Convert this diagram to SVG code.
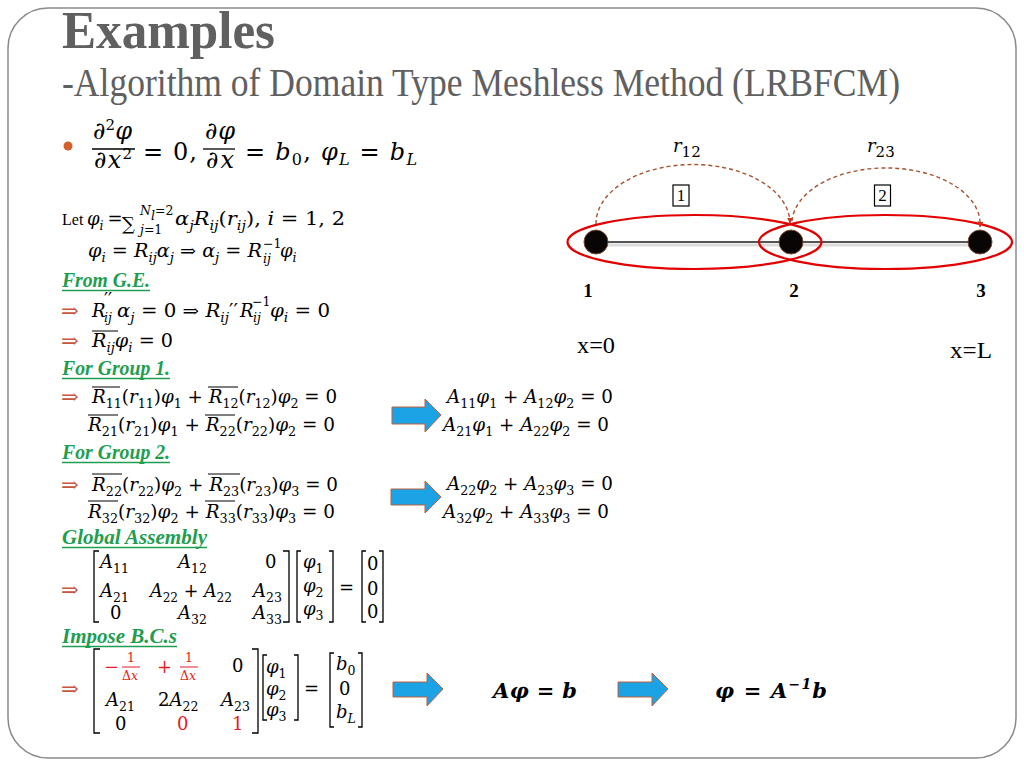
<svg xmlns="http://www.w3.org/2000/svg" width="1024" height="768" viewBox="0 0 1024 768">
<style>
.m{font-family:"DejaVu Serif","Liberation Serif",serif;font-size:18px;fill:#000}
.i{font-style:italic}
.s{font-size:12.5px;baseline-shift:-4.5px;font-style:normal}
.si{font-size:12.5px;baseline-shift:-4.5px;font-style:italic}
.sm{font-size:12.5px}
.ar{font-family:"DejaVu Serif","Liberation Serif",serif;font-size:21px;fill:#c8553d}
.red{fill:#e31e24}
.hd{font-family:"Liberation Serif",serif;font-weight:bold;font-style:italic;font-size:20px;fill:#1f9e50}
.ul{stroke:#1f9e50;stroke-width:1.3}
.br{fill:none;stroke:#000;stroke-width:1.3}
.ov{stroke:#000;stroke-width:1}
.blue{fill:#1ba3e6;stroke:#c0603a;stroke-width:1}
.big{font-family:"DejaVu Serif","Liberation Serif",serif;font-size:24px;fill:#000}
.bb{font-family:"DejaVu Serif","Liberation Serif",serif;font-size:21px;font-weight:bold;font-style:italic;fill:#000}
.lbl{font-family:"Liberation Serif",serif;font-size:19px;font-weight:bold;fill:#000;text-anchor:middle}
.tx{font-family:"Liberation Serif",serif;font-size:23px;fill:#000}
.ell{fill:none;stroke:#e30000;stroke-width:2.2}
.dash{fill:none;stroke:#a5522e;stroke-width:1.4;stroke-dasharray:4 3}
.nd{fill:#0a0505;stroke:#7a4a30;stroke-width:1}
</style>
<defs>
<marker id="ah" viewBox="0 0 10 10" refX="9" refY="5" markerWidth="6" markerHeight="6" orient="auto" markerUnits="userSpaceOnUse">
<path d="M0,0 L10,5 L0,10 Z" fill="#d0301a"/>
</marker>
</defs>
<rect x="8" y="8" width="1008" height="750" rx="40" ry="40" fill="#fff" stroke="#8a8a8a" stroke-width="1.5"/>
<text x="62" y="48" font-family="Liberation Serif,serif" font-weight="bold" font-size="52" fill="#606060" textLength="213" lengthAdjust="spacingAndGlyphs">Examples</text>
<text x="62" y="96" font-family="Liberation Serif,serif" font-size="40" fill="#606060" textLength="838" lengthAdjust="spacingAndGlyphs">-Algorithm of Domain Type Meshless Method (LRBFCM)</text>
<circle cx="68" cy="146" r="4.5" fill="#d4602e"/>
<g id="pde">
<text class="big" x="93" y="139" textLength="39">∂<tspan font-size="15" baseline-shift="9">2</tspan><tspan class="i">φ</tspan></text>
<line x1="92" y1="149" x2="135" y2="149" stroke="#000" stroke-width="1.3"/>
<text class="big" x="94" y="168" textLength="38">∂<tspan class="i">x</tspan><tspan font-size="15" baseline-shift="9">2</tspan></text>
<text class="big" x="143" y="160" textLength="54">= 0,</text>
<text class="big" x="205" y="139" textLength="30">∂<tspan class="i">φ</tspan></text>
<line x1="203" y1="149" x2="235" y2="149" stroke="#000" stroke-width="1.3"/>
<text class="big" x="206" y="168" textLength="28">∂<tspan class="i">x</tspan></text>
<text class="big" x="245" y="160" textLength="172">= <tspan class="i">b</tspan><tspan font-size="16" baseline-shift="-5">0</tspan>, <tspan class="i">φ</tspan><tspan font-size="16" baseline-shift="-5" font-style="italic">L</tspan> = <tspan class="i">b</tspan><tspan font-size="16" baseline-shift="-5" font-style="italic">L</tspan></text>
</g>
<g id="let">
<text x="62" y="225" font-family="Liberation Serif,serif" font-size="16">Let</text>
<text class="m" x="87" y="225" font-size="17"><tspan class="i">φ</tspan><tspan class="si" font-size="12">i</tspan></text>
<text class="m" x="107.5" y="225" font-size="14">=</text>
<text class="m" x="122" y="230" font-size="26">∑</text>
<text class="m sm" x="140" y="215"><tspan class="i">N</tspan><tspan class="si" font-size="9">l</tspan>=2</text>
<text class="m sm" x="140" y="234"><tspan class="i">j</tspan>=1</text>
<text class="m" x="175" y="225" textLength="170" lengthAdjust="spacingAndGlyphs"><tspan class="i">α</tspan><tspan class="si">j</tspan><tspan class="i">R</tspan><tspan class="si">ij</tspan>(<tspan class="i">r</tspan><tspan class="si">ij</tspan>), <tspan class="i">i</tspan> = 1, 2</text>
<text class="m" x="88" y="257" textLength="174" lengthAdjust="spacingAndGlyphs"><tspan class="i">φ</tspan><tspan class="si">i</tspan> = <tspan class="i">R</tspan><tspan class="si">ij</tspan><tspan class="i">α</tspan><tspan class="si">j</tspan> ⇒ <tspan class="i">α</tspan><tspan class="si">j</tspan> = <tspan class="i">R</tspan></text>
<text class="m sm" x="263" y="248">−1</text>
<text class="m sm i" x="263" y="263">ij</text>
<text class="m" x="280" y="257"><tspan class="i">φ</tspan><tspan class="si">i</tspan></text>
</g>
<g id="ge">
<text class="hd" x="62" y="287" textLength="88" lengthAdjust="spacingAndGlyphs">From G.E.</text>
<line class="ul" x1="62" y1="290.5" x2="150" y2="290.5"/>
<text class="ar" x="61" y="318">⇒</text>
<text class="m i" x="92" y="317">R</text>
<text class="m" x="104" y="306" font-size="14">′′</text>
<text class="m sm i" x="104" y="322">ij</text>
<text class="m" x="117" y="317" textLength="121" lengthAdjust="spacingAndGlyphs"><tspan class="i">α</tspan><tspan class="si">j</tspan> = 0 ⇒ <tspan class="i">R</tspan><tspan class="si">ij</tspan>′′</text>
<text class="m i" x="240" y="317">R</text>
<text class="m sm" x="252" y="306">−1</text>
<text class="m sm i" x="253" y="322">ij</text>
<text class="m" x="270" y="317" textLength="60" lengthAdjust="spacingAndGlyphs"><tspan class="i">φ</tspan><tspan class="si">i</tspan> = 0</text>
<text class="ar" x="61" y="348">⇒</text>
<text class="m" x="92" y="347" textLength="81" lengthAdjust="spacingAndGlyphs"><tspan class="i">R</tspan><tspan class="si">ij</tspan><tspan class="i">φ</tspan><tspan class="si">i</tspan> = 0</text>
<line class="ov" x1="92" y1="331" x2="118" y2="331"/>
</g>
<g id="group1">
<text class="hd" x="62" y="375" textLength="108" lengthAdjust="spacingAndGlyphs">For Group 1.</text>
<line class="ul" x1="62" y1="378.5" x2="170" y2="378.5"/>
<text class="ar" x="61" y="404">⇒</text>
<text class="m" x="92" y="403" textLength="245" lengthAdjust="spacingAndGlyphs"><tspan class="i">R</tspan><tspan class="s">11</tspan>(<tspan class="i">r</tspan><tspan class="s">11</tspan>)<tspan class="i">φ</tspan><tspan class="s">1</tspan> + <tspan class="i">R</tspan><tspan class="s">12</tspan>(<tspan class="i">r</tspan><tspan class="s">12</tspan>)<tspan class="i">φ</tspan><tspan class="s">2</tspan> = 0</text>
<line class="ov" x1="92" y1="387" x2="120" y2="387"/>
<line class="ov" x1="208" y1="387" x2="238" y2="387"/>
<text class="m" x="88" y="431" textLength="247" lengthAdjust="spacingAndGlyphs"><tspan class="i">R</tspan><tspan class="s">21</tspan>(<tspan class="i">r</tspan><tspan class="s">21</tspan>)<tspan class="i">φ</tspan><tspan class="s">1</tspan> + <tspan class="i">R</tspan><tspan class="s">22</tspan>(<tspan class="i">r</tspan><tspan class="s">22</tspan>)<tspan class="i">φ</tspan><tspan class="s">2</tspan> = 0</text>
<line class="ov" x1="88" y1="415" x2="118" y2="415"/>
<line class="ov" x1="205" y1="415" x2="235" y2="415"/>
</g>
<g id="group2">
<text class="hd" x="62" y="459" textLength="108" lengthAdjust="spacingAndGlyphs">For Group 2.</text>
<line class="ul" x1="62" y1="462.5" x2="170" y2="462.5"/>
<text class="ar" x="61" y="492">⇒</text>
<text class="m" x="92" y="491" textLength="246" lengthAdjust="spacingAndGlyphs"><tspan class="i">R</tspan><tspan class="s">22</tspan>(<tspan class="i">r</tspan><tspan class="s">22</tspan>)<tspan class="i">φ</tspan><tspan class="s">2</tspan> + <tspan class="i">R</tspan><tspan class="s">23</tspan>(<tspan class="i">r</tspan><tspan class="s">23</tspan>)<tspan class="i">φ</tspan><tspan class="s">3</tspan> = 0</text>
<line class="ov" x1="92" y1="474" x2="122" y2="474"/>
<line class="ov" x1="208" y1="474" x2="240" y2="474"/>
<text class="m" x="88" y="518" textLength="247" lengthAdjust="spacingAndGlyphs"><tspan class="i">R</tspan><tspan class="s">32</tspan>(<tspan class="i">r</tspan><tspan class="s">32</tspan>)<tspan class="i">φ</tspan><tspan class="s">2</tspan> + <tspan class="i">R</tspan><tspan class="s">33</tspan>(<tspan class="i">r</tspan><tspan class="s">33</tspan>)<tspan class="i">φ</tspan><tspan class="s">3</tspan> = 0</text>
<line class="ov" x1="88" y1="501" x2="118" y2="501"/>
<line class="ov" x1="205" y1="501" x2="235" y2="501"/>
</g>
<g id="local-eqs">
<text class="m" x="447" y="403" textLength="166" lengthAdjust="spacingAndGlyphs"><tspan class="i">A</tspan><tspan class="s">11</tspan><tspan class="i">φ</tspan><tspan class="s">1</tspan> + <tspan class="i">A</tspan><tspan class="s">12</tspan><tspan class="i">φ</tspan><tspan class="s">2</tspan> = 0</text>
<text class="m" x="443" y="431" textLength="166" lengthAdjust="spacingAndGlyphs"><tspan class="i">A</tspan><tspan class="s">21</tspan><tspan class="i">φ</tspan><tspan class="s">1</tspan> + <tspan class="i">A</tspan><tspan class="s">22</tspan><tspan class="i">φ</tspan><tspan class="s">2</tspan> = 0</text>
<text class="m" x="447" y="490" textLength="166" lengthAdjust="spacingAndGlyphs"><tspan class="i">A</tspan><tspan class="s">22</tspan><tspan class="i">φ</tspan><tspan class="s">2</tspan> + <tspan class="i">A</tspan><tspan class="s">23</tspan><tspan class="i">φ</tspan><tspan class="s">3</tspan> = 0</text>
<text class="m" x="443" y="518" textLength="166" lengthAdjust="spacingAndGlyphs"><tspan class="i">A</tspan><tspan class="s">32</tspan><tspan class="i">φ</tspan><tspan class="s">2</tspan> + <tspan class="i">A</tspan><tspan class="s">33</tspan><tspan class="i">φ</tspan><tspan class="s">3</tspan> = 0</text>
</g>
<g id="assembly">
<text class="hd" x="62" y="544" textLength="145" lengthAdjust="spacingAndGlyphs">Global Assembly</text>
<line class="ul" x1="62" y1="547.5" x2="207" y2="547.5"/>
<text class="ar" x="61" y="597">⇒</text>
<path class="br" d="M99 551 H94 V622 H99"/>
<path class="br" d="M283 551 H289 V622 H283"/>
<text class="m" x="100" y="568"><tspan class="i">A</tspan><tspan class="s">11</tspan></text>
<text class="m" x="178" y="568"><tspan class="i">A</tspan><tspan class="s">12</tspan></text>
<text class="m" x="265" y="568">0</text>
<text class="m" x="100" y="597"><tspan class="i">A</tspan><tspan class="s">21</tspan></text>
<text class="m" x="150" y="597" textLength="82" lengthAdjust="spacingAndGlyphs"><tspan class="i">A</tspan><tspan class="s">22</tspan> + <tspan class="i">A</tspan><tspan class="s">22</tspan></text>
<text class="m" x="253" y="597"><tspan class="i">A</tspan><tspan class="s">23</tspan></text>
<text class="m" x="110" y="619">0</text>
<text class="m" x="178" y="619"><tspan class="i">A</tspan><tspan class="s">32</tspan></text>
<text class="m" x="253" y="619"><tspan class="i">A</tspan><tspan class="s">33</tspan></text>
<path class="br" d="M301 551 H297 V622 H301"/>
<path class="br" d="M329 551 H333 V622 H329"/>
<text class="m" x="303" y="568"><tspan class="i">φ</tspan><tspan class="s">1</tspan></text>
<text class="m" x="303" y="592"><tspan class="i">φ</tspan><tspan class="s">2</tspan></text>
<text class="m" x="303" y="615"><tspan class="i">φ</tspan><tspan class="s">3</tspan></text>
<text class="m" x="339" y="594">=</text>
<path class="br" d="M366 551 H362 V622 H366"/>
<path class="br" d="M379 551 H383 V622 H379"/>
<text class="m" x="367" y="570">0</text>
<text class="m" x="367" y="595">0</text>
<text class="m" x="367" y="618">0</text>
</g>
<g id="bcs">
<text class="hd" x="62" y="643" textLength="115" lengthAdjust="spacingAndGlyphs">Impose B.C.s</text>
<line class="ul" x1="62" y1="646.5" x2="177" y2="646.5"/>
<text class="ar" x="61" y="696">⇒</text>
<path class="br" d="M100 649 H94 V733 H100"/>
<path class="br" d="M252 649 H258 V733 H252"/>
<text class="m red" x="104" y="673">−</text>
<text class="m sm red" x="127" y="662">1</text>
<line x1="122" y1="667" x2="140" y2="667" stroke="#e31e24" stroke-width="1"/>
<text class="m sm red" x="122" y="680">Δ<tspan class="i">x</tspan></text>
<text class="m red" x="157" y="673">+</text>
<text class="m sm red" x="185" y="662">1</text>
<line x1="180" y1="667" x2="198" y2="667" stroke="#e31e24" stroke-width="1"/>
<text class="m sm red" x="180" y="680">Δ<tspan class="i">x</tspan></text>
<text class="m" x="232" y="672">0</text>
<text class="m" x="106" y="706"><tspan class="i">A</tspan><tspan class="s">21</tspan></text>
<text class="m" x="158" y="706">2<tspan class="i">A</tspan><tspan class="s">22</tspan></text>
<text class="m" x="221" y="706"><tspan class="i">A</tspan><tspan class="s">23</tspan></text>
<text class="m" x="115" y="730">0</text>
<text class="m red" x="177" y="730">0</text>
<text class="m red" x="232" y="730">1</text>
<path class="br" d="M267 655 H263 V720 H267"/>
<path class="br" d="M294 655 H298 V720 H294"/>
<text class="m" x="266" y="673"><tspan class="i">φ</tspan><tspan class="s">1</tspan></text>
<text class="m" x="266" y="695"><tspan class="i">φ</tspan><tspan class="s">2</tspan></text>
<text class="m" x="266" y="716"><tspan class="i">φ</tspan><tspan class="s">3</tspan></text>
<text class="m" x="304" y="695">=</text>
<path class="br" d="M334 653 H330 V727 H334"/>
<path class="br" d="M358 653 H362 V727 H358"/>
<text class="m" x="336" y="670"><tspan class="i">b</tspan><tspan class="s">0</tspan></text>
<text class="m" x="339" y="695">0</text>
<text class="m" x="336" y="718"><tspan class="i">b</tspan><tspan class="si">L</tspan></text>
</g>
<g id="arrows">
<path class="blue" d="M392 407 H425 V399 L441 415 L425 432 V424 H392 Z"/>
<path class="blue" d="M391 489 H425 V481 L441 497 L425 513 V505 H391 Z"/>
<path class="blue" d="M393 682 H427 V673 L443 689 L427 706 V697 H393 Z"/>
<path class="blue" d="M618 682 H652 V673 L668 689 L652 706 V697 H618 Z"/>
</g>
<g id="results">
<text class="bb" x="493" y="698" textLength="84">Aφ = b</text>
<text class="bb" x="715" y="698" textLength="112">φ = A<tspan font-size="14" baseline-shift="9">−1</tspan>b</text>
</g>
<g id="connectors">
<line x1="596" y1="245" x2="980" y2="245" stroke="#dcdcdc" stroke-width="3"/>
<line x1="596" y1="242" x2="980" y2="242" stroke="#555" stroke-width="2"/>
<ellipse class="ell" cx="694.5" cy="242" rx="127" ry="27"/>
<ellipse class="ell" cx="885.5" cy="242" rx="126.5" ry="27"/>
<path class="dash" d="M596 224 A97 59 0 0 1 790 223" marker-end="url(#ah)"/>
<path class="dash" d="M792 221 A94 56 0 0 1 980 227" marker-end="url(#ah)"/>
</g>
<g id="node1"><circle class="nd" cx="596" cy="242" r="12"/><text class="lbl" x="588" y="297">1</text></g>
<g id="node2"><circle class="nd" cx="791" cy="242" r="12"/><text class="lbl" x="794" y="297">2</text></g>
<g id="node3"><circle class="nd" cx="980" cy="242" r="12"/><text class="lbl" x="981" y="297">3</text></g>
<g id="labels">
<text class="m" x="673" y="152" font-size="22"><tspan class="i">r</tspan><tspan font-size="15" baseline-shift="-5">12</tspan></text>
<text class="m" x="867" y="152" font-size="22"><tspan class="i">r</tspan><tspan font-size="15" baseline-shift="-5">23</tspan></text>
<rect x="673" y="185" width="16" height="21" fill="#fff" stroke="#000" stroke-width="1.2"/>
<text x="681" y="201" font-family="Liberation Serif,serif" font-size="17" text-anchor="middle">1</text>
<rect x="874.5" y="185" width="16" height="21" fill="#fff" stroke="#000" stroke-width="1.2"/>
<text x="882.5" y="201" font-family="Liberation Serif,serif" font-size="17" text-anchor="middle">2</text>
<text class="tx" x="577" y="353" textLength="38" lengthAdjust="spacingAndGlyphs">x=0</text>
<text class="tx" x="950" y="358" textLength="42" lengthAdjust="spacingAndGlyphs">x=L</text>
</g>
</svg>
